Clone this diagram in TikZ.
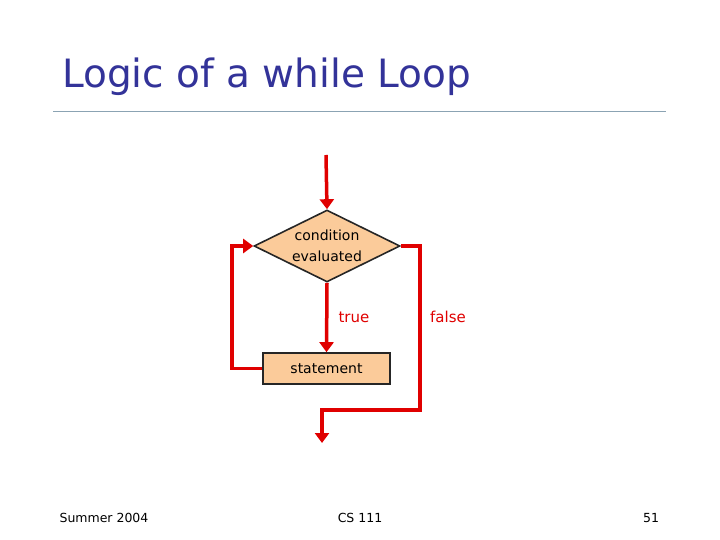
\documentclass[tikz,border=0pt]{standalone}
\usepackage{fontspec}
\setmainfont{DejaVu Sans}
\usetikzlibrary{
  arrows.meta,
  shapes.geometric,
  positioning
}
\definecolor{wlTitle}{HTML}{333399}
\definecolor{wlRule}{HTML}{8BA3B3}
\definecolor{wlRed}{HTML}{E00000}
\definecolor{wlFill}{HTML}{FBCB9A}
\tikzset{
  wlnode/.style={
    draw=black!85, line width=1.6pt, fill=wlFill, align=center,
    font=\fontsize{14}{21}\selectfont
  },
  decision/.style={wlnode, diamond, aspect=2, minimum width=146pt, minimum height=72pt, inner sep=0pt},
  stmtbox/.style={wlnode, rectangle, minimum width=127pt, minimum height=31pt, inner sep=0pt},
  flow/.style={-{Triangle[length=10pt,width=14pt]}, line width=3.5pt, wlRed},
  tag/.style={font=\fontsize{15}{17}\selectfont, text=wlRed, anchor=base},
  footer/.style={font=\fontsize{12.5}{14}\selectfont, anchor=base}
}

\begin{document}
\begin{tikzpicture}[x=1pt, y=-1pt]
  \useasboundingbox[fill=white] (0,0) rectangle (720,540);
  % title and rule
  \node[anchor=base west, inner sep=0pt, text=wlTitle, font=\fontsize{39}{44}\selectfont] (title) at (62,88) {Logic of a while Loop};
  \draw[wlRule, line width=0.8pt] (53,111) -- (666,111);
  % flowchart
  \node[decision] (cond) at (327,246) {condition\\evaluated};
  \node[stmtbox] (stmt) at (326.5,368.5) {statement};
  \coordinate (start) at (326,155);
  \coordinate (bend) at (420,410);
  \coordinate (exit) at (322,443);
  \draw[flow] (start) -- (cond.north);
  \draw[flow] (cond.south) -- (stmt.north);
  \draw[flow] (stmt.west) -- ++(-30,0) |- (cond.west);
  \draw[flow] (cond.east) -| (bend) -| (exit);
  \node[tag] (true) at (354,322) {true};
  \node[tag] (false) at (448,322) {false};
  % footer
  \node[footer] (season) at (104,522) {Summer 2004};
  \node[footer] (course) at (360,522) {CS 111};
  \node[footer] (page) at (651,522) {51};
\end{tikzpicture}
\end{document}
